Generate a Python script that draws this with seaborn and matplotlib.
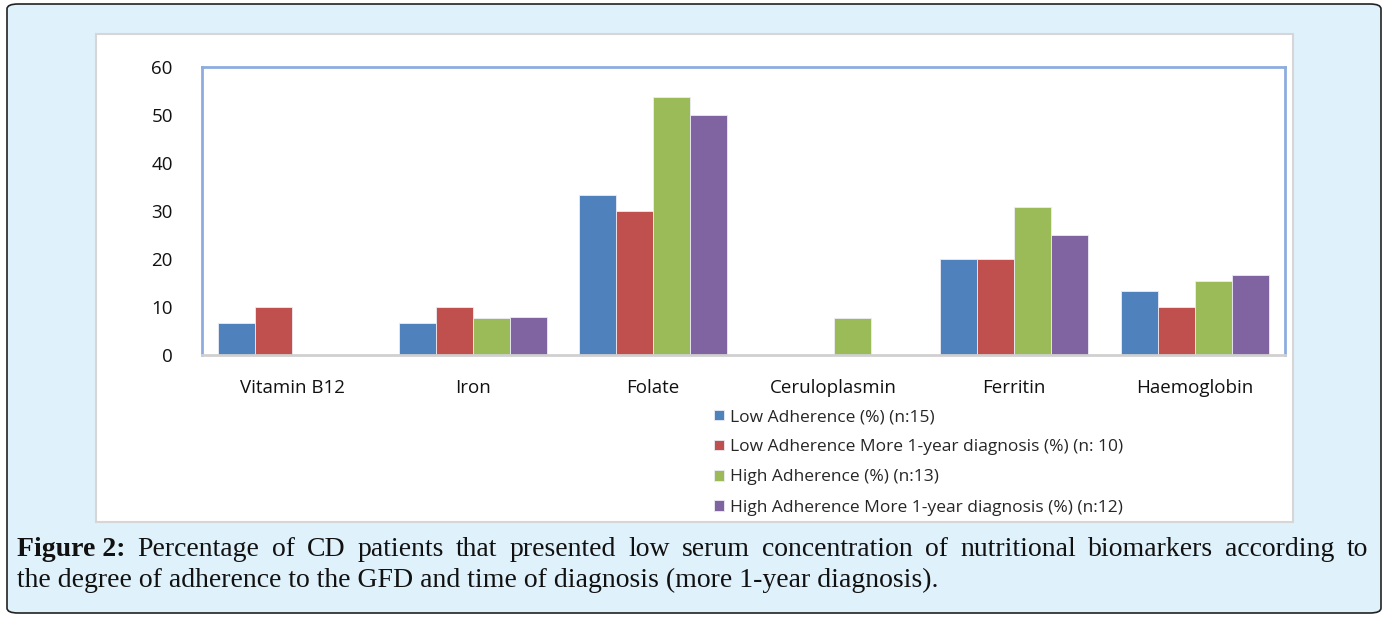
import numpy as np
import pandas as pd
import matplotlib
matplotlib.use("Agg")
import matplotlib.pyplot as plt
import seaborn as sns
from matplotlib.patches import FancyBboxPatch, Rectangle

# data
biomarkers = ["Vitamin B12", "Iron", "Folate", "Ceruloplasmin", "Ferritin", "Haemoglobin"]
groups = ["Low Adherence (%) (n:15)",
          "Low Adherence More 1-year diagnosis (%) (n: 10)",
          "High Adherence (%) (n:13)",
          "High Adherence More 1-year diagnosis (%) (n:12)"]
low_adh = [6.7, 6.7, 33.3, 0, 20, 13.3]
low_adh_1y = [10, 10, 30, 0, 20, 10]
high_adh = [0, 7.7, 53.8, 7.7, 30.8, 15.4]
high_adh_1y = [0, 8.0, 50, 0, 25, 16.7]
colors = ["#4F81BD", "#C0504D", "#9BBB59", "#8064A2"]

caption_bold = "Figure 2:"
caption_line1 = "Percentage of CD patients that presented low serum concentration of nutritional biomarkers according to"
caption_line2 = "the degree of adherence to the GFD and time of diagnosis (more 1-year diagnosis)."

rows = []
for g, vals in zip(groups, [low_adh, low_adh_1y, high_adh, high_adh_1y]):
    for b, v in zip(biomarkers, vals):
        rows.append({"biomarker": b, "group": g, "value": v})
df = pd.DataFrame(rows)

sns.set_style("white")
plt.rcParams["font.family"] = ["Open Sans", "DejaVu Sans"]

fig = plt.figure(figsize=(13.85, 6.18), dpi=100)
W, H = 1385, 618

# outer light blue frame and white chart panel
fig.patches.append(FancyBboxPatch((7 / W, 5 / H), 1374 / W, 609 / H,
                                  boxstyle="round,pad=0,rounding_size=0.008",
                                  transform=fig.transFigure, facecolor="#DFF1FB",
                                  edgecolor="#222222", linewidth=1.2, zorder=0))
fig.patches.append(Rectangle((96 / W, 1 - 522 / H), 1197 / W, 488 / H,
                             transform=fig.transFigure, facecolor="white",
                             edgecolor="#D6D6D6", linewidth=1.5, zorder=1))

ax = fig.add_axes([202 / W, 1 - 355 / H, 1083 / W, 288 / H])
ax.set_zorder(2)
sns.barplot(data=df, x="biomarker", y="value", hue="group", palette=colors,
            width=0.82, saturation=1, edgecolor="#ECECF4", linewidth=0.6, ax=ax)

ax.set_ylim(0, 60)
ax.set_yticks(range(0, 61, 10))
ax.set_xlim(-0.5, 5.5)
ax.set_xlabel("")
ax.set_ylabel("")
ax.tick_params(axis="both", length=0, labelsize=13.5, colors="#111111")
ax.tick_params(axis="y", pad=21)
ax.tick_params(axis="x", pad=17)
for side in ["left", "top", "right"]:
    ax.spines[side].set_color("#8EACDF")
    ax.spines[side].set_linewidth(2)
ax.spines["bottom"].set_color("#D0D0D0")
ax.spines["bottom"].set_linewidth(2)

handles, labels = ax.get_legend_handles_labels()
ax.get_legend().remove()
fig.legend(handles, labels, loc="upper left", bbox_to_anchor=(714 / W, 1 - 409 / H),
           frameon=False, fontsize=12.5, handlelength=0.55, handleheight=0.55,
           handletextpad=0.35, labelspacing=0.82, borderaxespad=0, borderpad=0)

# caption, first line justified to the box width
serif = ["Liberation Serif", "DejaVu Serif"]
fs = 20
x0, x1 = 17, 1368
y1, y2 = 1 - 556 / H, 1 - 587 / H
renderer = fig.canvas.get_renderer()
words = [(caption_bold, "bold")] + [(w, "normal") for w in caption_line1.split()]
items = []
for w, wt in words:
    t = fig.text(0, y1, w, fontsize=fs, fontweight=wt, family=serif,
                 va="baseline", color="#111111")
    items.append((t, t.get_window_extent(renderer).width))
gap = (x1 - x0 - sum(wd for _, wd in items)) / (len(items) - 1)
x = x0
for t, wd in items:
    t.set_x(x / W)
    x += wd + gap
fig.text(x0 / W, y2, caption_line2, fontsize=fs, family=serif,
         va="baseline", color="#111111")

fig.savefig("out.png", dpi=100)
